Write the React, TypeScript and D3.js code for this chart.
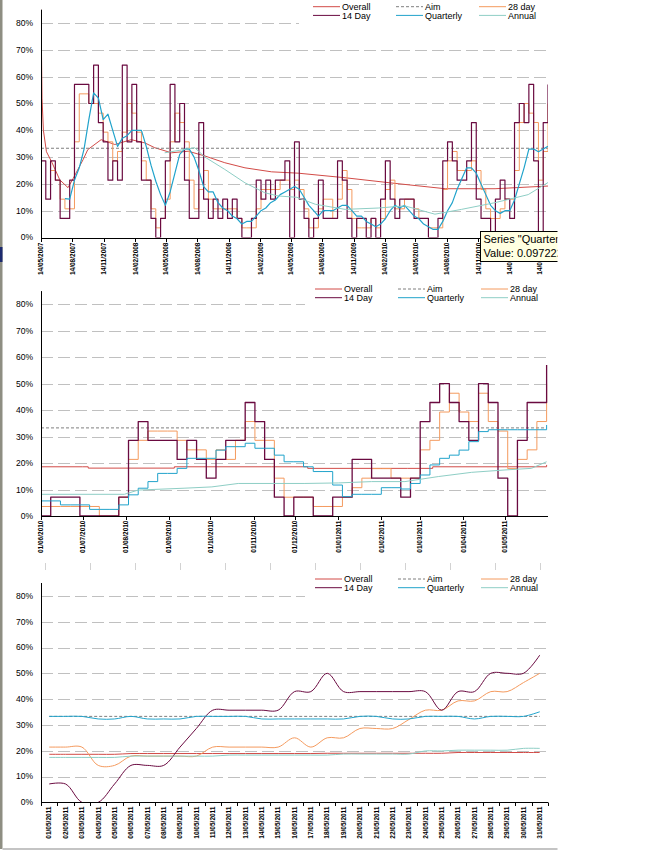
import React from 'react'
import * as d3 from 'd3'

const FONT = '"Liberation Sans", Arial, Helvetica, sans-serif'
const parseIso = d3.timeParse('%Y-%m-%d')
const parseDay = d3.timeParse('%d/%m/%Y')

const colors: Record<string, string> = {
  overall: '#D24B47',
  aim: '#7F7F7F',
  day28: '#F49A5E',
  day14: '#6A0A40',
  quarterly: '#21A3CB',
  annual: '#8ECEC5',
}

const legendItems = [
  { name: 'Overall', key: 'overall' },
  { name: 'Aim', key: 'aim', dash: '3,2' },
  { name: '28 day', key: 'day28' },
  { name: '14 Day', key: 'day14' },
  { name: 'Quarterly', key: 'quarterly' },
  { name: 'Annual', key: 'annual' },
]

const yTicks = [0, 10, 20, 30, 40, 50, 60, 70, 80]
const aimValue = 33.3

// ---- top chart: whole history, one value every 14 days ----
const topStart = '2007-05-14'
const topEnd = '2011-06-06'
const topStepDays = 14
const topTickLabels = [
  '14/05/2007', '14/08/2007', '14/11/2007', '14/02/2008', '14/05/2008', '14/08/2008',
  '14/11/2008', '14/02/2009', '14/05/2009', '14/08/2009', '14/11/2009', '14/02/2010',
  '14/05/2010', '14/08/2010', '14/11/2010', '14/02/2011', '14/05/2011',
]
const top14Day = [
  28.6, 14.3, 28.6, 21.4, 7.1, 7.1, 21.4, 57.1, 57.1, 57.1,
  50, 64.3, 42.9, 35.7, 21.4, 28.6, 21.4, 64.3, 35.7, 57.1,
  35.7, 21.4, 21.4, 7.1, 0, 7.1, 28.6, 57.1, 35.7, 50,
  21.4, 7.1, 7.1, 42.9, 14.3, 7.1, 14.3, 7.1, 14.3, 7.1,
  14.3, 7.1, 0, 0, 7.1, 21.4, 14.3, 21.4, 14.3, 21.4,
  21.4, 28.6, 0, 35.7, 14.3, 7.1, 0, 7.1, 21.4, 7.1,
  7.1, 7.1, 28.6, 21.4, 7.1, 0, 7.1, 7.1, 0, 7.1,
  0, 14.3, 28.6, 14.3, 7.1, 14.3, 14.3, 14.3, 7.1, 7.1,
  7.1, 0, 0, 7.1, 28.6, 35.7, 28.6, 21.4, 21.4, 28.6,
  42.9, 14.3, 7.1, 7.1, 0, 14.3, 21.4, 14.3, 7.1, 42.9,
  50, 42.9, 57.1, 28.6, 0, 42.9, 57.1,
]
const top28Day = [
  null, null, 25, 21.4, 14.3, 10.7, 10.7, 35.7, 53.6, 53.6,
  50, 50, 46.4, 39.3, 35.7, 28.6, 32.1, 39.3, 50, 46.4,
  39.3, 28.6, 21.4, 10.7, 3.6, 7.1, 14.3, 35.7, 46.4, 42.9,
  35.7, 21.4, 10.7, 17.9, 25, 14.3, 10.7, 10.7, 10.7, 10.7,
  10.7, 7.1, 3.6, 3.6, 3.6, 10.7, 17.9, 17.9, 17.9, 17.9,
  21.4, 21.4, 17.9, 21.4, 17.9, 10.7, 3.6, 3.6, 10.7, 14.3,
  14.3, 7.1, 14.3, 25, 17.9, 7.1, 3.6, 3.6, 3.6, 7.1,
  3.6, 7.1, 17.9, 21.4, 10.7, 10.7, 14.3, 14.3, 10.7, 7.1,
  7.1, 3.6, 3.6, 3.6, 17.9, 28.6, 32.1, 25, 25, 25,
  28.6, 25, 17.9, 10.7, 7.1, 7.1, 10.7, 14.3, 14.3, 25,
  42.9, 50, 46.4, 42.9, 21.4, 32.1, 50,
]
const topQuarterly = [
  null, null, null, null, null, 14.5, 14.3, 21.4, 26, 33,
  44, 54, 52, 44, 46, 40, 34, 37, 38, 40,
  40, 40, 34, 27, 21, 16, 12, 17, 24, 31,
  33, 33, 30, 25, 19, 17, 17, 13, 11, 10,
  8, 7, 5, 6, 6, 8, 10, 11, 13, 14,
  16, 17, 18, 19, 18, 15, 12, 10, 8, 10,
  10, 10, 11, 12, 12, 10, 8, 8, 6, 5,
  4, 5, 7, 10, 12, 11, 12, 10, 8, 7,
  5, 4, 3, 3, 6, 10, 13, 18, 22, 26,
  26, 24, 20, 16, 12, 10, 9, 10, 10, 14,
  20, 26, 33, 33, 32, 33, 34,
]
const topOverall: [string, number][] = [
  ['2007-05-14', 85], ['2007-05-17', 52], ['2007-05-21', 40], ['2007-05-30', 32],
  ['2007-06-15', 28], ['2007-07-08', 21.5], ['2007-08-01', 18.6], ['2007-08-16', 22],
  ['2007-09-14', 29], ['2007-09-28', 32.8], ['2007-11-06', 36.5], ['2007-12-16', 34.7],
  ['2008-02-02', 36.5], ['2008-03-13', 35.3], ['2008-04-11', 33.5], ['2008-05-30', 31.6],
  ['2008-07-18', 32.2], ['2008-09-05', 30.4], ['2008-11-02', 27.9], ['2008-12-31', 26],
  ['2009-03-19', 24.5], ['2009-06-05', 24], ['2009-10-20', 22.3], ['2010-03-15', 20.2],
  ['2010-08-09', 18.2], ['2011-01-02', 18.2], ['2011-06-06', 19.2],
]
const topAnnual: [string, number][] = [
  ['2008-05-10', 31.6], ['2008-08-06', 33.5], ['2008-09-05', 30], ['2008-11-02', 25.4],
  ['2008-12-31', 20.4], ['2009-02-27', 16.7], ['2009-04-07', 15.5], ['2009-06-01', 15],
  ['2009-07-25', 12.4], ['2009-10-20', 10.5], ['2010-01-25', 11], ['2010-04-13', 11.8],
  ['2010-07-10', 8.7], ['2010-09-26', 10.5], ['2011-01-02', 13], ['2011-04-09', 16],
  ['2011-06-06', 20.5],
]

// ---- middle chart: last year, one value per week ----
const midStart = '2010-06-01'
const midEnd = '2011-06-01'
const midStepDays = 7
const midTickLabels = [
  '01/06/2010', '01/07/2010', '01/08/2010', '01/09/2010', '01/10/2010', '01/11/2010',
  '01/12/2010', '01/01/2011', '01/02/2011', '01/03/2011', '01/04/2011', '01/05/2011',
]
const mid14Day = [
  0, 7.1, 7.1, 7.1, 0, 0, 0, 0, 7.1, 28.6,
  35.7, 28.6, 28.6, 28.6, 21.4, 28.6, 21.4, 14.3, 21.4, 28.6,
  28.6, 42.9, 35.7, 21.4, 7.1, 0, 7.1, 7.1, 0, 0,
  7.1, 7.1, 21.4, 21.4, 14.3, 14.3, 14.3, 7.1, 14.3, 35.7,
  42.9, 50, 42.9, 35.7, 28.6, 50, 42.9, 14.3, 0, 28.6,
  42.9, 42.9, 57.1,
]
const mid28Day = [
  3.6, 3.6, 3.6, 3.6, 3.6, 3.6, 0, 0, 7.1, 21.4,
  28.6, 32.1, 32.1, 32.1, 28.6, 25, 25, 21.4, 25, 21.4,
  28.6, 35.7, 28.6, 28.6, 14.3, 7.1, 7.1, 7.1, 3.6, 3.6,
  3.6, 7.1, 10.7, 14.3, 17.9, 17.9, 14.3, 14.3, 14.3, 25,
  28.6, 39.3, 46.4, 39.3, 35.7, 46.4, 35.7, 32.1, 17.9, 21.4,
  25, 35.7, 50,
]
const midQuarterly = [
  5.7, 5.7, 4.2, 4.2, 4.2, 2.5, 2.5, 2.5, 4.2, 8,
  10.5, 13, 16.1, 16.1, 18, 21.8, 21.8, 21.8, 24.9, 26.2,
  26.2, 27.5, 25.6, 25.6, 23, 20.5, 20.5, 18.6, 16.8, 16.8,
  11.7, 7.3, 8.2, 8.2, 8.2, 10.7, 10.7, 10.2, 12.3, 15.5,
  19.3, 21.8, 23, 24.9, 28.1, 31.9, 32.6, 32.6, 32.6, 32.6,
  32.6, 32.6, 34.4,
]
const midOverall: [string, number][] = [
  ['2010-06-01', 18.6], ['2010-07-01', 18.6], ['2010-07-05', 18.1], ['2010-08-30', 18.1],
  ['2010-09-05', 18.6], ['2010-11-14', 18.6], ['2010-12-10', 18], ['2011-02-20', 18],
  ['2011-03-10', 18.6], ['2011-05-01', 18.6], ['2011-05-31', 19.3],
]
const midAnnual: [string, number][] = [
  ['2010-06-01', 8.2], ['2010-07-31', 8.2], ['2010-08-10', 9.8], ['2010-09-12', 10.5],
  ['2010-10-02', 11], ['2010-10-21', 12.3], ['2010-12-08', 12.3], ['2011-01-01', 12.5],
  ['2011-01-25', 13], ['2011-02-18', 13], ['2011-03-14', 14.9], ['2011-04-07', 16.5],
  ['2011-05-01', 17.4], ['2011-05-20', 18], ['2011-05-31', 20.5],
]

// ---- bottom chart: May 2011, daily ----
const bottomDays = [
  '01/05/2011', '02/05/2011', '03/05/2011', '04/05/2011', '05/05/2011', '06/05/2011',
  '07/05/2011', '08/05/2011', '09/05/2011', '10/05/2011', '11/05/2011', '12/05/2011',
  '13/05/2011', '14/05/2011', '15/05/2011', '16/05/2011', '17/05/2011', '18/05/2011',
  '19/05/2011', '20/05/2011', '21/05/2011', '22/05/2011', '23/05/2011', '24/05/2011',
  '25/05/2011', '26/05/2011', '27/05/2011', '28/05/2011', '29/05/2011', '30/05/2011',
  '31/05/2011',
]
const bottom14Day = [
  7.1, 7.1, 0, 0, 7.1, 14.3, 14.3, 14.3, 21.4, 28.6, 35.7, 35.7, 35.7, 35.7, 35.7, 42.9,
  42.9, 50, 42.9, 42.9, 42.9, 42.9, 42.9, 42.9, 35.7, 42.9, 42.9, 50, 50, 50, 57.1,
]
const bottom28Day = [
  21.4, 21.4, 21.4, 14.3, 14.3, 17.9, 17.9, 17.9, 17.9, 17.9, 21.4, 21.4, 21.4, 21.4, 21.4, 25,
  21.4, 25, 25, 28.6, 28.6, 28.6, 32.1, 35.7, 35.7, 39.3, 39.3, 42.9, 42.9, 46.4, 50,
]
const bottomQuarterly = [
  33.3, 33.3, 33.3, 32.3, 32.3, 33.3, 32.3, 32.3, 32.3, 33.3, 33.3, 33.3, 33.3, 32.3, 32.3, 32.3,
  32.3, 32.3, 32.3, 33.3, 33.3, 32.3, 32.3, 33.3, 33.3, 33.3, 32.3, 33.3, 33.3, 33.3, 35.1,
]
const bottomAnnual = [
  17.4, 17.4, 17.4, 17.4, 17.4, 17.9, 17.9, 17.9, 17.9, 17.9, 17.9, 18.3, 18.3, 18.3, 18.3, 18.3,
  18.3, 18.3, 18.7, 18.7, 18.7, 18.7, 18.7, 19.9, 19.9, 20.2, 20.2, 20.2, 20.2, 20.9, 20.9,
]
const bottomOverall = [
  18.6, 18.6, 18.6, 18.6, 18.6, 18.9, 18.9, 18.9, 18.9, 18.9, 18.9, 18.9, 18.9, 18.9, 18.9, 18.9,
  18.9, 19, 19, 19, 19, 19, 19, 19, 19, 19.3, 19.3, 19.3, 19.3, 19.3, 19.3,
]

type Pt = [number, number | null]
type Line = { key: string; points: Pt[]; curve: d3.CurveFactory; width?: number; dash?: string }

const LEFT = 41
const RIGHT = 548

type PanelProps = {
  id: string
  yTop: number
  yZero: number
  lines: Line[]
  tickXs: number[]
  labels: { x: number; text: string }[]
  legendY: number
  legendDx: number
  legendBox: [number, number, number]
}

const Panel = ({ id, yTop, yZero, lines, tickXs, labels, legendY, legendDx, legendBox }: PanelProps) => {
  const y = d3.scaleLinear().domain([0, 85]).range([yZero, yTop])
  const path = (ln: Line) =>
    d3
      .line<Pt>()
      .defined(d => d[1] != null)
      .x(d => d[0])
      .y(d => y(d[1] as number))
      .curve(ln.curve)(ln.points) || ''
  const cols = [313, 396, 479]
  const axisY = Math.round(yZero) + 0.5

  return (
    <g fontFamily={FONT}>
      <defs>
        <clipPath id={id}>
          <rect x={LEFT} y={yTop - 1} width={RIGHT - LEFT} height={yZero - yTop + 1} />
        </clipPath>
      </defs>
      {yTicks
        .filter(t => t > 0)
        .map(t => (
          <line
            key={t}
            x1={LEFT}
            x2={RIGHT}
            y1={Math.round(y(t)) + 0.5}
            y2={Math.round(y(t)) + 0.5}
            stroke="#C0C0C0"
            strokeDasharray="12,5"
          />
        ))}
      <g clipPath={`url(#${id})`}>
        {lines.map(ln => (
          <path
            key={ln.key}
            d={path(ln)}
            fill="none"
            stroke={colors[ln.key]}
            strokeWidth={ln.width ?? 1}
            strokeDasharray={ln.dash}
            strokeLinejoin="round"
          />
        ))}
      </g>
      <rect
        x={legendBox[0]}
        y={legendBox[1]}
        width={RIGHT + 1 - legendBox[0]}
        height={legendBox[2] - legendBox[1]}
        fill="#fff"
      />
      {legendItems.map((it, i) => {
        const cx = cols[i % 3] + legendDx
        const ly = legendY + Math.floor(i / 3) * 8.7
        return (
          <g key={it.name}>
            <line x1={cx} x2={cx + 27} y1={ly} y2={ly} stroke={colors[it.key]} strokeDasharray={it.dash} />
            <text x={cx + 29} y={ly + 3.3} fontSize={9}>
              {it.name}
            </text>
          </g>
        )
      })}
      <line x1={LEFT + 0.5} x2={LEFT + 0.5} y1={yTop} y2={axisY} stroke="#000" />
      <line x1={LEFT} x2={RIGHT} y1={axisY} y2={axisY} stroke="#000" />
      {tickXs.map((x, i) => (
        <line key={i} x1={Math.round(x) + 0.5} x2={Math.round(x) + 0.5} y1={axisY} y2={axisY + 3.5} stroke="#000" />
      ))}
      {yTicks.map(t => (
        <text key={t} x={33} y={y(t)} dy="0.35em" textAnchor="end" fontSize={8.5}>
          {t}%
        </text>
      ))}
      {labels.map(l => (
        <text
          key={l.text}
          transform={`translate(${l.x},${axisY + 4}) rotate(-90)`}
          textAnchor="end"
          dy="0.35em"
          fontSize={6.5}
          fontWeight="bold"
        >
          {l.text}
        </text>
      ))}
    </g>
  )
}

const App = () => {
  // top
  const xTop = d3.scaleTime().domain([parseIso(topStart)!, parseIso(topEnd)!]).range([LEFT, RIGHT])
  const topDate = (k: number) => d3.timeDay.offset(parseIso(topStart)!, k * topStepDays)
  const stepPts = (vals: (number | null)[]): Pt[] => vals.map((v, k) => [xTop(topDate(k)), v])
  const datedTop = (arr: [string, number][]): Pt[] => arr.map(([d, v]) => [xTop(parseIso(d)!), v])
  const topLast = topDate(top14Day.length - 1)
  const topLines: Line[] = [
    { key: 'overall', points: datedTop(topOverall), curve: d3.curveLinear },
    { key: 'aim', points: [[xTop(parseIso(topStart)!), aimValue], [xTop(topLast), aimValue]], curve: d3.curveLinear, dash: '3,2' },
    { key: 'day28', points: stepPts(top28Day), curve: d3.curveStepAfter },
    { key: 'day14', points: stepPts(top14Day), curve: d3.curveStepAfter, width: 1.2 },
    { key: 'quarterly', points: stepPts(topQuarterly), curve: d3.curveLinear, width: 1.2 },
    { key: 'annual', points: datedTop(topAnnual), curve: d3.curveLinear },
  ]
  const topTicks = topTickLabels.map(t => xTop(parseDay(t)!))

  // middle
  const xMid = d3.scaleTime().domain([parseIso(midStart)!, parseIso(midEnd)!]).range([LEFT, RIGHT])
  const midDate = (w: number) => d3.timeDay.offset(parseIso(midStart)!, w * midStepDays)
  const weekPts = (vals: number[]): Pt[] => vals.map((v, w) => [xMid(midDate(w)), v])
  const datedMid = (arr: [string, number][]): Pt[] => arr.map(([d, v]) => [xMid(parseIso(d)!), v])
  const midLast = midDate(mid14Day.length - 1)
  const midLines: Line[] = [
    { key: 'overall', points: datedMid(midOverall), curve: d3.curveStepAfter },
    { key: 'aim', points: [[xMid(parseIso(midStart)!), aimValue], [xMid(midLast), aimValue]], curve: d3.curveLinear, dash: '3,2' },
    { key: 'day28', points: weekPts(mid28Day), curve: d3.curveStepAfter },
    { key: 'day14', points: weekPts(mid14Day), curve: d3.curveStepAfter, width: 1.3 },
    { key: 'quarterly', points: weekPts(midQuarterly), curve: d3.curveStepAfter },
    { key: 'annual', points: datedMid(midAnnual), curve: d3.curveLinear },
  ]
  const midTicks = midTickLabels.map(t => xMid(parseDay(t)!))

  // bottom
  const xBot = d3.scaleBand().domain(bottomDays).range([LEFT, RIGHT])
  const bw = xBot.bandwidth()
  const dayPts = (vals: number[]): Pt[] => vals.map((v, i) => [(xBot(bottomDays[i]) as number) + bw / 2, v])
  const smooth = d3.curveCatmullRom.alpha(0.5)
  const botLines: Line[] = [
    { key: 'overall', points: dayPts(bottomOverall), curve: smooth },
    { key: 'aim', points: dayPts(bottomDays.map(() => aimValue)), curve: d3.curveLinear, dash: '3,2' },
    { key: 'day28', points: dayPts(bottom28Day), curve: smooth },
    { key: 'day14', points: dayPts(bottom14Day), curve: smooth },
    { key: 'quarterly', points: dayPts(bottomQuarterly), curve: smooth },
    { key: 'annual', points: dayPts(bottomAnnual), curve: smooth },
  ]
  const botTicks = [...bottomDays.map(d => xBot(d) as number), RIGHT]

  return (
    <div style={{ position: 'absolute', left: 0, top: 0 }}>
      <svg width={646} height={851} style={{ display: 'block', background: '#fff' }}>
        <Panel
          id="clipTop"
          yTop={9.7}
          yZero={237.5}
          lines={topLines}
          tickXs={topTicks}
          labels={topTickLabels.map((t, i) => ({ x: topTicks[i], text: t }))}
          legendY={6.7}
          legendDx={0}
          legendBox={[299, 0, 25]}
        />
        <Panel
          id="clipMid"
          yTop={291.1}
          yZero={516}
          lines={midLines}
          tickXs={midTicks}
          labels={midTickLabels.map((t, i) => ({ x: midTicks[i], text: t }))}
          legendY={289}
          legendDx={2}
          legendBox={[305, 283, 306]}
        />
        <Panel
          id="clipBot"
          yTop={583}
          yZero={802.3}
          lines={botLines}
          tickXs={botTicks}
          labels={bottomDays.map(d => ({ x: (xBot(d) as number) + bw / 2, text: d }))}
          legendY={579}
          legendDx={2}
          legendBox={[305, 573, 598.5]}
        />
        {/* faint sheet marks under the middle chart */}
        {d3.range(12).map(i => (
          <line key={i} x1={45.5 + i * 45} x2={45.5 + i * 45} y1={563} y2={570} stroke="#D2D2D2" />
        ))}
        {/* tooltip left over from the spreadsheet */}
        <defs>
          <clipPath id="tipClip">
            <rect x={0} y={0} width={557.5} height={851} />
          </clipPath>
        </defs>
        <g clipPath="url(#tipClip)" fontFamily={FONT} fontSize={11}>
          <rect x={480.5} y={231.5} width={90} height={30} fill="#FFFFE1" stroke="#000" />
          <text x={483.5} y={243}>Series "Quarterly" Point</text>
          <text x={483.5} y={257}>Value: 0.097222222</text>
        </g>
        <rect x={0} y={0} width={2.5} height={849} fill="#8E8E82" />
        <rect x={0} y={247} width={2.5} height={15} fill="#1C2A6E" />
        <rect x={2.5} y={848} width={555} height={2} fill="#C4C4C4" />
      </svg>
    </div>
  )
}

export default App
